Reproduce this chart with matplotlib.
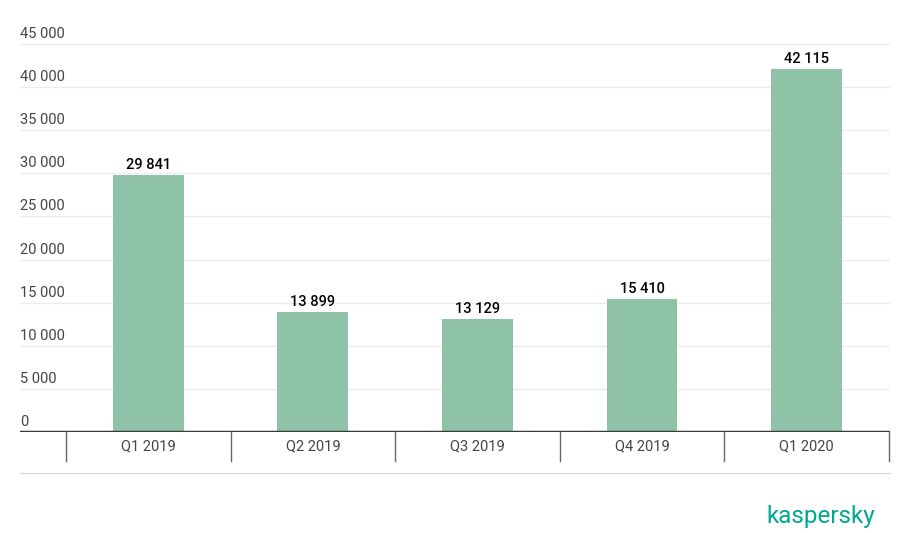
import matplotlib.pyplot as plt
from matplotlib.transforms import blended_transform_factory, offset_copy

# Data
quarters = ["Q1 2019", "Q2 2019", "Q3 2019", "Q4 2019", "Q1 2020"]
counts = [29841, 13899, 13129, 15410, 42115]
y_ticks = [0, 5000, 10000, 15000, 20000, 25000, 30000, 35000, 40000, 45000]

plt.rcParams["font.family"] = ["Roboto", "DejaVu Sans"]

W, H = 907, 533
fig = plt.figure(figsize=(W / 100, H / 100), dpi=100)
left, right, base, top = 20, 890, 432, 44
ax = fig.add_axes([left / W, 1 - base / H, (right - left) / W, (base - top) / H])

x = list(range(len(quarters)))
ax.bar(x, counts, width=0.43, color="#8fc3a7", zorder=2)

ax.set_xlim(-0.5 - 46 / 165, 4.5 + 1 / 165)
ax.set_ylim(0, 45000)

# gridlines and y labels
for v in y_ticks:
    if v > 0:
        ax.axhline(v, color="#ebebeb", lw=1, zorder=1)
    lab = f"{v:,}".replace(",", " ")
    ax.text(0, v, lab, transform=offset_copy(ax.get_yaxis_transform(), fig=fig, y=3, units="dots"),
            ha="left", va="bottom", fontsize=10.5, color="#444444", clip_on=False)

# value labels
for xi, c in zip(x, counts):
    ax.annotate(f"{c:,}".replace(",", " "), (xi, c), xytext=(0, 2), textcoords="offset points",
                ha="center", va="bottom", fontsize=10.5, fontweight="medium", color="black")

for s in ax.spines.values():
    s.set_visible(False)
ax.set_xticks([])
ax.set_yticks([])

# baseline
ax.axhline(0, color="#3a3a3a", lw=2.5, zorder=3)

# category separators and labels below axis
trans = blended_transform_factory(ax.transData, fig.transFigure)
y0 = 1 - base / H
y1 = 1 - 461 / H
for b in [i - 0.5 for i in range(len(quarters) + 1)]:
    fig.add_artist(plt.Line2D([b, b], [y0, y1], transform=trans, color="#666666", lw=1))
for xi, q in zip(x, quarters):
    fig.text(xi, 1 - 446 / H, q, transform=trans, ha="center", va="center",
             fontsize=10.5, color="#444444")

# bottom rule
fig.add_artist(plt.Line2D([left / W, right / W], [1 - 473 / H] * 2, color="#dddddd", lw=1))

# logo text
fig.text(875 / W, 1 - 517 / H, "kaspersky", ha="right", va="center", fontsize=17.5,
         fontweight="normal", color="#00a88e")

fig.savefig("out.png", dpi=100)
